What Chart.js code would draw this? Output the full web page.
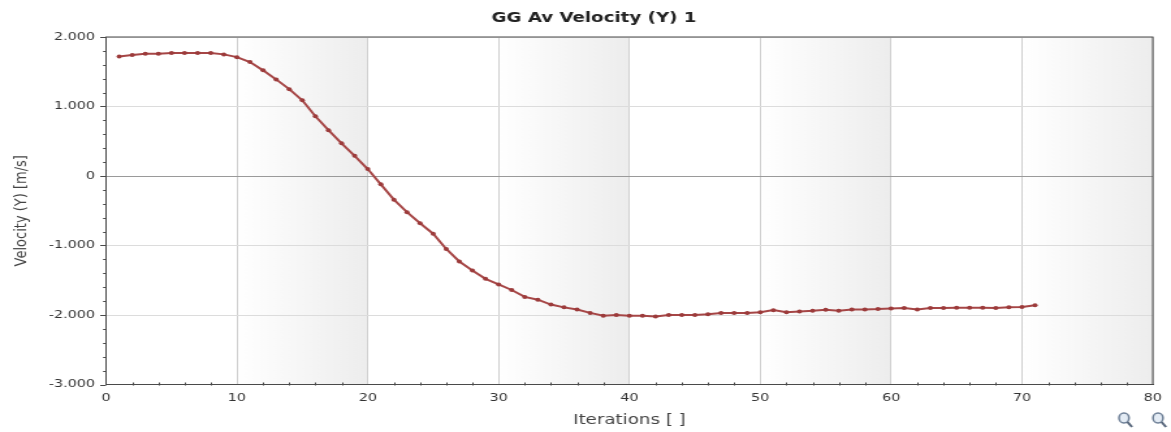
<!DOCTYPE html>
<html>
<head>
<meta charset="utf-8">
<script src="https://cdn.jsdelivr.net/npm/chart.js@4.4.0/dist/chart.umd.min.js"></script>
<style>
  html, body { margin: 0; padding: 0; background: #fff; }
</style>
</head>
<body>
<canvas id="c" width="900" height="432" style="display:block;width:1171px;height:432px"></canvas>
<script>
const iterations = [1, 2, 3, 4, 5, 6, 7, 8, 9, 10,
  11, 12, 13, 14, 15, 16, 17, 18, 19, 20,
  21, 22, 23, 24, 25, 26, 27, 28, 29, 30,
  31, 32, 33, 34, 35, 36, 37, 38, 39, 40,
  41, 42, 43, 44, 45, 46, 47, 48, 49, 50,
  51, 52, 53, 54, 55, 56, 57, 58, 59, 60,
  61, 62, 63, 64, 65, 66, 67, 68, 69, 70, 71];
const velocityY = [1.72, 1.74, 1.76, 1.76, 1.77, 1.77, 1.77, 1.77, 1.75, 1.71,
  1.64, 1.52, 1.39, 1.25, 1.09, 0.86, 0.66, 0.47, 0.29, 0.10,
  -0.12, -0.34, -0.52, -0.68, -0.83, -1.05, -1.23, -1.36, -1.48, -1.56,
  -1.64, -1.74, -1.78, -1.85, -1.89, -1.92, -1.97, -2.01, -2.00, -2.01,
  -2.01, -2.02, -2.00, -2.00, -2.00, -1.99, -1.97, -1.97, -1.97, -1.96,
  -1.93, -1.96, -1.95, -1.94, -1.925, -1.94, -1.92, -1.92, -1.915, -1.905,
  -1.90, -1.92, -1.90, -1.90, -1.895, -1.895, -1.895, -1.90, -1.89, -1.885, -1.86];
const shadedBands = [[10, 20], [30, 40], [50, 60], [70, 80]];
const chartTitle = 'GG Av Velocity (Y) 1';

// the source picture is stretched sideways, so the canvas is drawn narrower and widened by css
const stretch = 1171 / 900;

const bandsPlugin = {
  id: 'bands',
  beforeDraw(chart) {
    const { ctx, chartArea: a, scales: { x } } = chart;
    ctx.save();
    shadedBands.forEach(([from, to]) => {
      const x0 = x.getPixelForValue(from);
      const x1 = x.getPixelForValue(to);
      const g = ctx.createLinearGradient(x0, 0, x1, 0);
      g.addColorStop(0, '#ffffff');
      g.addColorStop(1, '#ededed');
      ctx.fillStyle = g;
      ctx.fillRect(x0, a.top, x1 - x0, a.bottom - a.top);
    });
    ctx.restore();
  }
};

const framePlugin = {
  id: 'frame',
  afterDraw(chart) {
    const { ctx, chartArea: a, scales: { x, y } } = chart;
    ctx.save();
    ctx.strokeStyle = '#4a4a4a';
    ctx.lineWidth = 1;
    ctx.strokeRect(a.left, a.top, a.right - a.left, a.bottom - a.top);
    // minor ticks
    ctx.beginPath();
    for (let v = 2; v < 80; v += 2) {
      if (v % 10 === 0) continue;
      const px = Math.round(x.getPixelForValue(v)) + 0.5;
      ctx.moveTo(px, a.bottom - 2);
      ctx.lineTo(px, a.bottom + 1);
    }
    for (let v = -3; v <= 2.001; v += 0.2) {
      const py = Math.round(y.getPixelForValue(v)) + 0.5;
      const major = Math.abs(v - Math.round(v)) < 0.01;
      ctx.moveTo(a.left - (major ? 4.5 : 2.3), py);
      ctx.lineTo(a.left, py);
    }
    ctx.stroke();
    // title
    ctx.fillStyle = '#222';
    ctx.font = 'bold 14px "DejaVu Sans"';
    ctx.textAlign = 'center';
    ctx.textBaseline = 'middle';
    ctx.fillText(chartTitle, 594 / stretch, 18);
    // zoom buttons
    [1124, 1158].forEach((cx, i) => {
      const px = cx / stretch;
      ctx.strokeStyle = '#6d7f96';
      ctx.fillStyle = '#e4ecf5';
      ctx.lineWidth = 1.5;
      ctx.beginPath();
      ctx.ellipse(px, 418, 5 / stretch, 5, 0, 0, Math.PI * 2);
      ctx.fill();
      ctx.stroke();
      ctx.strokeStyle = '#56657a';
      ctx.lineWidth = 2;
      ctx.beginPath();
      ctx.moveTo(px + 3.5 / stretch, 422);
      ctx.lineTo(px + 8 / stretch, 427);
      ctx.stroke();
    });
    ctx.restore();
  }
};

new Chart(document.getElementById('c'), {
  type: 'line',
  data: {
    datasets: [{
      label: chartTitle,
      data: iterations.map((it, i) => ({ x: it, y: velocityY[i] })),
      borderColor: '#a64646',
      backgroundColor: '#9c3b3b',
      borderWidth: 2,
      pointRadius: 2,
      pointBorderWidth: 0,
      tension: 0
    }]
  },
  options: {
    responsive: false,
    devicePixelRatio: 1,
    animation: false,
    layout: { padding: { left: 0, right: 6, top: 37, bottom: 0 } },
    plugins: { legend: { display: false }, tooltip: { enabled: false } },
    scales: {
      x: {
        type: 'linear',
        min: 0,
        max: 80,
        afterFit: s => { s.height = 47.5; },
        ticks: {
          stepSize: 10,
          padding: 7,
          color: '#333',
          font: { family: 'DejaVu Sans', size: 11 },
          maxRotation: 0
        },
        grid: { color: '#d0d0d0', drawTicks: false },
        border: { color: '#4a4a4a' },
        title: {
          display: true,
          text: 'Iterations [ ]',
          color: '#444',
          font: { family: 'DejaVu Sans', size: 14 },
          padding: { top: 0, bottom: 3.6 }
        }
      },
      y: {
        min: -3,
        max: 2,
        afterFit: s => { s.width = 81.5; },
        ticks: {
          stepSize: 1,
          padding: 8.5,
          color: '#333',
          font: { family: 'DejaVu Sans', size: 11 },
          callback: v => v === 0 ? '0' : v.toFixed(3)
        },
        grid: {
          color: c => c.tick && c.tick.value === 0 ? '#9a9a9a' : '#dcdcdc',
          drawTicks: false
        },
        border: { color: '#4a4a4a' },
        title: {
          display: true,
          text: 'Velocity (Y) [m/s]',
          color: '#444',
          font: { family: 'DejaVu Sans', size: 13 },
          padding: { top: 9, bottom: 0 }
        }
      }
    }
  },
  plugins: [bandsPlugin, framePlugin]
});
</script>
</body>
</html>
